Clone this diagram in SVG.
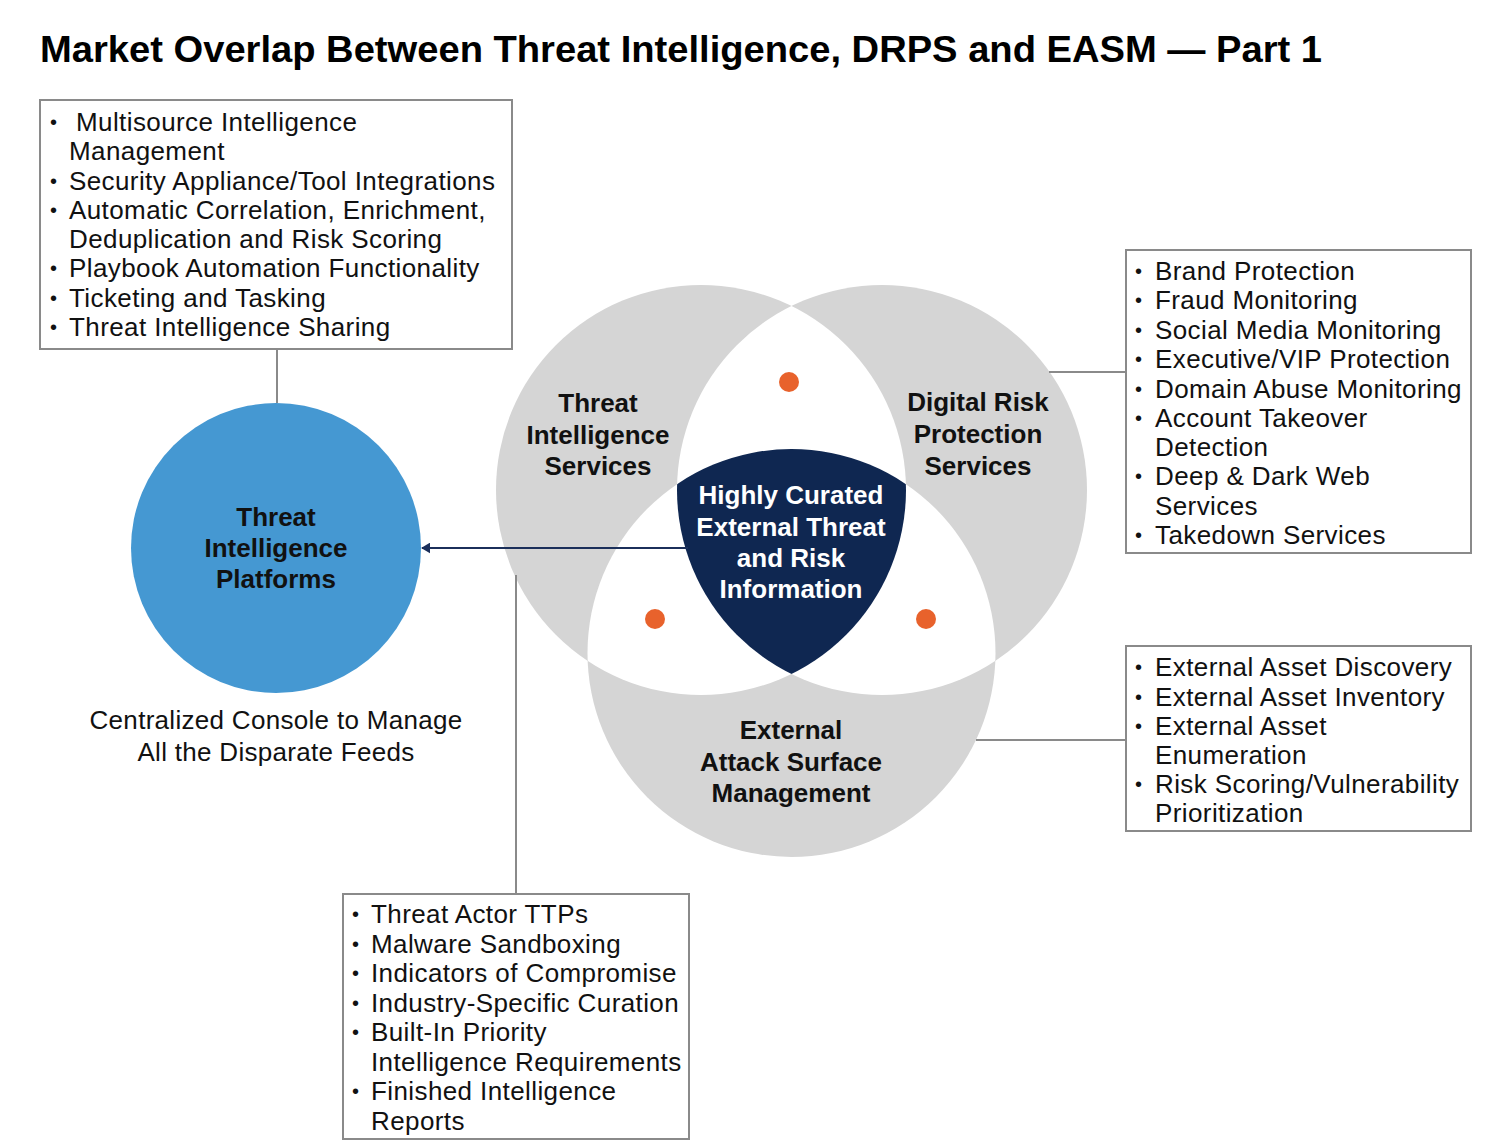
<svg xmlns="http://www.w3.org/2000/svg" width="1486" height="1148" viewBox="0 0 1486 1148">
<style>
.title{font-family:"Liberation Sans",Arial,sans-serif;font-weight:bold;font-size:36px;fill:#000}
.lbl{font-family:"Liberation Sans",Arial,sans-serif;font-weight:bold;font-size:26px;fill:#111;text-anchor:middle}
.lblw{font-family:"Liberation Sans",Arial,sans-serif;font-weight:bold;font-size:26px;fill:#fff;text-anchor:middle}
.cap{font-family:"Liberation Sans",Arial,sans-serif;font-size:26px;fill:#111;text-anchor:middle;letter-spacing:0.3px}
.item{font-family:"Liberation Sans",Arial,sans-serif;font-size:26px;fill:#111;letter-spacing:0.4px}
.bul{font-family:"Liberation Sans",Arial,sans-serif;font-size:20px;fill:#111}
.box{fill:#fff;stroke:#8a8a8a;stroke-width:2}
.conn{stroke:#8a8a8a;stroke-width:2;fill:none}
.gray{fill:#d5d5d5}
.dot{fill:#e8622c}
</style>
<defs>
<clipPath id="cA"><circle cx="701" cy="490" r="205"/></clipPath>
<clipPath id="cB"><circle cx="882" cy="490" r="205"/></clipPath>
<clipPath id="cC"><circle cx="791.5" cy="653" r="204"/></clipPath>
<marker id="arr" viewBox="0 0 10 12" refX="9" refY="6" markerWidth="9" markerHeight="11" orient="auto" markerUnits="userSpaceOnUse">
<path d="M0,0 L10,6 L0,12 z" fill="#1b2f5a"/>
</marker>
</defs>
<rect width="1486" height="1148" fill="#fff"/>
<text class="title" x="40" y="62" textLength="1282" lengthAdjust="spacingAndGlyphs">Market Overlap Between Threat Intelligence, DRPS and EASM — Part 1</text>

<g id="venn">
<circle class="gray" cx="701" cy="490" r="205"/>
<circle class="gray" cx="882" cy="490" r="205"/>
<circle class="gray" cx="791.5" cy="653" r="204"/>
<circle cx="882" cy="490" r="205" fill="#fff" clip-path="url(#cA)"/>
<circle cx="791.5" cy="653" r="204" fill="#fff" clip-path="url(#cA)"/>
<circle cx="791.5" cy="653" r="204" fill="#fff" clip-path="url(#cB)"/>
<g clip-path="url(#cA)"><circle cx="791.5" cy="653" r="204" fill="#0f2751" clip-path="url(#cB)"/></g>
<circle class="dot" cx="789" cy="382" r="10"/>
<circle class="dot" cx="655" cy="619" r="10"/>
<circle class="dot" cx="926" cy="619" r="10"/>
</g>

<g id="connectors">
<line class="conn" x1="277" y1="349" x2="277" y2="403"/>
<line class="conn" x1="1049" y1="372" x2="1126" y2="372"/>
<line class="conn" x1="976" y1="740" x2="1126" y2="740"/>
<line class="conn" x1="516" y1="575" x2="516" y2="894"/>
<line x1="688" y1="548" x2="422" y2="548" stroke="#1b2f5a" stroke-width="2" marker-end="url(#arr)"/>
</g>

<g id="node-tis">
<text class="lbl" x="598" y="412">Threat</text>
<text class="lbl" x="598" y="444">Intelligence</text>
<text class="lbl" x="598" y="475">Services</text>
</g>
<g id="node-drps">
<text class="lbl" x="978" y="411">Digital Risk</text>
<text class="lbl" x="978" y="443">Protection</text>
<text class="lbl" x="978" y="475">Services</text>
</g>
<g id="node-easm">
<text class="lbl" x="791" y="739">External</text>
<text class="lbl" x="791" y="771">Attack Surface</text>
<text class="lbl" x="791" y="802">Management</text>
</g>
<g id="node-center">
<text class="lblw" x="791" y="504">Highly Curated</text>
<text class="lblw" x="791" y="536">External Threat</text>
<text class="lblw" x="791" y="567">and Risk</text>
<text class="lblw" x="791" y="598">Information</text>
</g>

<g id="node-tip">
<circle cx="276" cy="548" r="145" fill="#4598d2"/>
<text class="lbl" x="276" y="526">Threat</text>
<text class="lbl" x="276" y="557">Intelligence</text>
<text class="lbl" x="276" y="588">Platforms</text>
<text class="cap" x="276" y="729">Centralized Console to Manage</text>
<text class="cap" x="276" y="761">All the Disparate Feeds</text>
</g>

<g id="box-tip">
<rect class="box" x="40" y="100" width="472" height="249"/>
<text class="bul" x="50" y="129">•</text><text class="item" x="76" y="131">Multisource Intelligence</text>
<text class="item" x="69" y="160">Management</text>
<text class="bul" x="50" y="188">•</text><text class="item" x="69" y="190">Security Appliance/Tool Integrations</text>
<text class="bul" x="50" y="217">•</text><text class="item" x="69" y="219">Automatic Correlation, Enrichment,</text>
<text class="item" x="69" y="248">Deduplication and Risk Scoring</text>
<text class="bul" x="50" y="275">•</text><text class="item" x="69" y="277">Playbook Automation Functionality</text>
<text class="bul" x="50" y="305">•</text><text class="item" x="69" y="307">Ticketing and Tasking</text>
<text class="bul" x="50" y="334">•</text><text class="item" x="69" y="336">Threat Intelligence Sharing</text>
</g>

<g id="box-drps">
<rect class="box" x="1126" y="250" width="345" height="303"/>
<text class="bul" x="1135" y="278">•</text><text class="item" x="1155" y="280">Brand Protection</text>
<text class="bul" x="1135" y="307">•</text><text class="item" x="1155" y="309">Fraud Monitoring</text>
<text class="bul" x="1135" y="337">•</text><text class="item" x="1155" y="339">Social Media Monitoring</text>
<text class="bul" x="1135" y="366">•</text><text class="item" x="1155" y="368">Executive/VIP Protection</text>
<text class="bul" x="1135" y="396">•</text><text class="item" x="1155" y="398">Domain Abuse Monitoring</text>
<text class="bul" x="1135" y="425">•</text><text class="item" x="1155" y="427">Account Takeover</text>
<text class="item" x="1155" y="456">Detection</text>
<text class="bul" x="1135" y="483">•</text><text class="item" x="1155" y="485">Deep &amp; Dark Web</text>
<text class="item" x="1155" y="515">Services</text>
<text class="bul" x="1135" y="542">•</text><text class="item" x="1155" y="544">Takedown Services</text>
</g>

<g id="box-easm">
<rect class="box" x="1126" y="646" width="345" height="185"/>
<text class="bul" x="1135" y="674">•</text><text class="item" x="1155" y="676">External Asset Discovery</text>
<text class="bul" x="1135" y="704">•</text><text class="item" x="1155" y="706">External Asset Inventory</text>
<text class="bul" x="1135" y="733">•</text><text class="item" x="1155" y="735">External Asset</text>
<text class="item" x="1155" y="764">Enumeration</text>
<text class="bul" x="1135" y="791">•</text><text class="item" x="1155" y="793">Risk Scoring/Vulnerability</text>
<text class="item" x="1155" y="822">Prioritization</text>
</g>

<g id="box-tis">
<rect class="box" x="343" y="894" width="346" height="245"/>
<text class="bul" x="352" y="921">•</text><text class="item" x="371" y="923">Threat Actor TTPs</text>
<text class="bul" x="352" y="951">•</text><text class="item" x="371" y="953">Malware Sandboxing</text>
<text class="bul" x="352" y="980">•</text><text class="item" x="371" y="982">Indicators of Compromise</text>
<text class="bul" x="352" y="1010">•</text><text class="item" x="371" y="1012">Industry-Specific Curation</text>
<text class="bul" x="352" y="1039">•</text><text class="item" x="371" y="1041">Built-In Priority</text>
<text class="item" x="371" y="1071">Intelligence Requirements</text>
<text class="bul" x="352" y="1098">•</text><text class="item" x="371" y="1100">Finished Intelligence</text>
<text class="item" x="371" y="1130">Reports</text>
</g>
</svg>
